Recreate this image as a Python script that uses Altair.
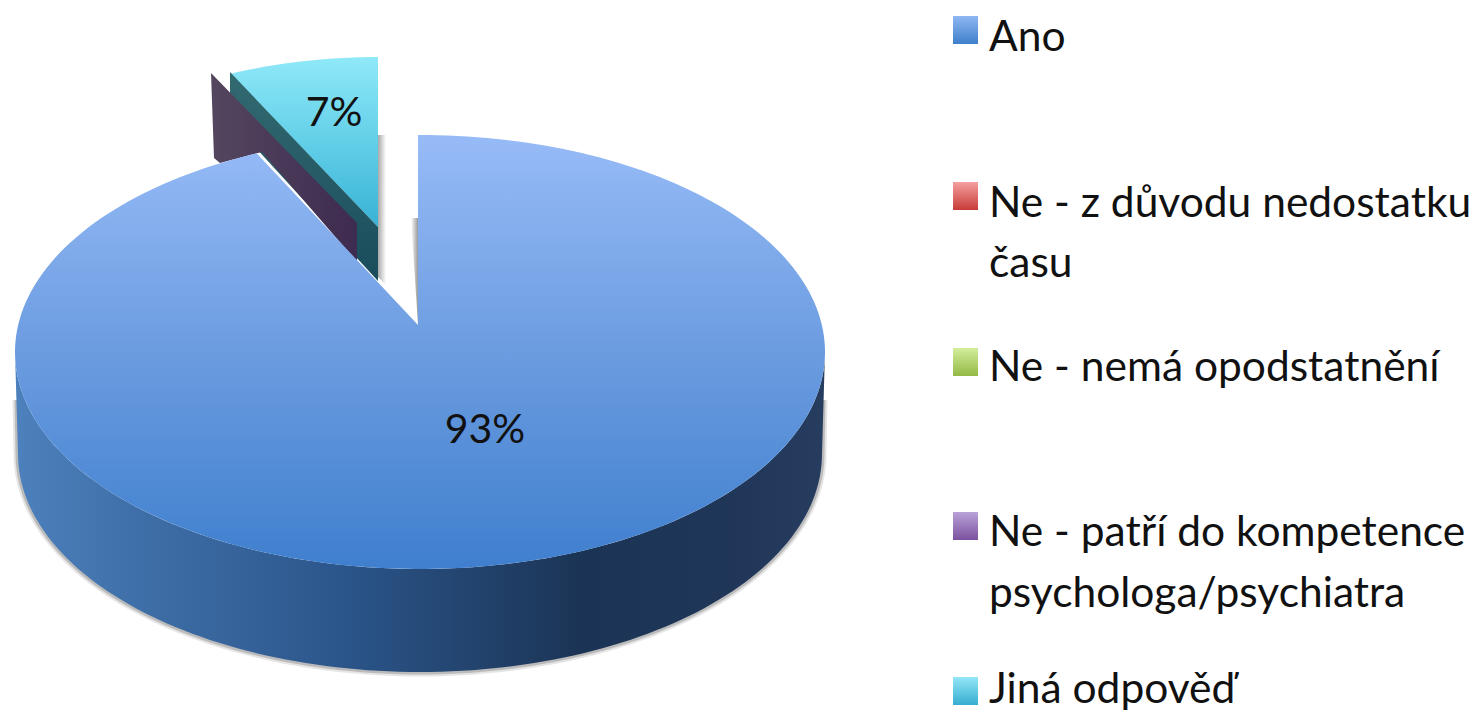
import math
import altair as alt
import pandas as pd

# chart values
categories = ["Ano", "Ne - z důvodu nedostatku", "Ne - nemá opodstatnění",
              "Ne - patří do kompetence", "Jiná odpověď"]
shares = [93.4, 0, 0, 0, 6.6]
pct_labels = ["93%", "7%"]
legend_extra = ["času", "psychologa/psychiatra"]

# layout (reference pixels)
W, H = 1465, 704
xs = alt.Scale(domain=[8, 8 + W], range=[0, W], nice=False, zero=False)
ys = alt.Scale(domain=[8, 8 + H], range=[0, H], nice=False, zero=False)
FONT = "Lato"


def grad(stops, vertical=True):
    s = [alt.GradientStop(offset=o, color=c) for o, c in stops]
    if vertical:
        return alt.LinearGradient(gradient="linear", stops=s, x1=0, x2=0, y1=0, y2=1)
    return alt.LinearGradient(gradient="linear", stops=s, x1=0, x2=1, y1=0, y2=0)


def shape(pts, **mark):
    df = pd.DataFrame({"x": [p[0] for p in pts], "y": [p[1] for p in pts], "i": range(len(pts))})
    return alt.Chart(df).mark_line(**mark).encode(
        x=alt.X("x:Q", scale=xs, axis=None),
        y=alt.Y("y:Q", scale=ys, axis=None),
        order=alt.Order("i:Q"),
    )


def arc(cx, cy, rx, ry, a0, a1, n=120):
    out = []
    for k in range(n + 1):
        a = math.radians(a0 + (a1 - a0) * k / n)
        out.append((cx + rx * math.sin(a), cy - ry * math.cos(a)))
    return out


big_deg = 360 * shares[0] / sum(shares)
layers = []

# small slice: top, cut face and zero-value face
cyan_top = [(378, 227)] + arc(378, 254, 365, 197, big_deg, 360, 30)
layers.append(shape(cyan_top, fill=grad([(0, "#90e9f8"), (0.5, "#62cfe8"), (1, "#38b2d5")]),
                    strokeWidth=0))
layers.append(shape([(230, 72), (378, 227), (378, 281), (230, 120)],
                    fill=grad([(0, "#336a70"), (1, "#1a4c5c")]), strokeWidth=0))
layers.append(shape([(211, 73), (357, 223), (357, 262), (262, 152), (220, 163), (214, 158)],
                    fill=grad([(0, "#54465f"), (1, "#3e2b50")], vertical=False), strokeWidth=0))

# shadows in the gap
layers.append(shape([(378, 135), (386, 135), (386, 285), (378, 277)],
                    fill=grad([(0, "#a8a8a8"), (1, "#ffffff")], vertical=False), strokeWidth=0))
layers.append(shape([(411, 218), (418, 218), (418, 325)],
                    fill=grad([(0, "#ffffff"), (1, "#9a9a9a")], vertical=False), strokeWidth=0))

# drop shadow and side wall
rim_top = arc(420, 352, 405, 217, 90, 270)
rim_low = arc(420, 454, 402, 218, 270, 90)
wall = [(17, 400)] + rim_low[::1] + [(823, 400)]
layers.append(shape(wall, fill="transparent", stroke="#000000", strokeOpacity=0.10, strokeWidth=9))
layers.append(shape(wall, fill="transparent", stroke="#000000", strokeOpacity=0.18, strokeWidth=5))
layers.append(shape(rim_top + rim_low,
                    fill=grad([(0, "#4d81bd"), (0.15, "#3f6fa8"), (0.4, "#2b568b"),
                               (0.7, "#1b3455"), (0.88, "#1f3658"), (1, "#263d60")],
                              vertical=False), strokeWidth=0))

# big slice
big_top = [(418, 325)] + arc(420, 352, 405, 217, -0.28, big_deg, 240)
layers.append(shape(big_top, fill=grad([(0, "#97bbf7"), (0.5, "#6b9ce0"), (1, "#3f7fce")]),
                    strokeWidth=0))

# percent labels
pct = pd.DataFrame({"t": pct_labels, "x": [485, 334], "y": [431, 114]})
layers.append(alt.Chart(pct).mark_text(font=FONT, fontSize=41, color="#111111").encode(
    x=alt.X("x:Q", scale=xs, axis=None), y=alt.Y("y:Q", scale=ys, axis=None), text="t:N"))

# legend
swatch_y = [16, 182, 348, 512, 677]
swatches = [[(0, "#8fb7f2"), (1, "#3f7fcc")], [(0, "#f4a09f"), (1, "#c83b38")],
            [(0, "#d3ee9c"), (1, "#93b946")], [(0, "#baa2da"), (1, "#7b519f")],
            [(0, "#94e7f7"), (1, "#36add1")]]
for yy, st in zip(swatch_y, swatches):
    d = pd.DataFrame({"x": [953], "x2": [978], "y": [yy], "y2": [yy + 28]})
    layers.append(alt.Chart(d).mark_rect(fill=grad(st), strokeWidth=0).encode(
        x=alt.X("x:Q", scale=xs, axis=None), x2="x2:Q",
        y=alt.Y("y:Q", scale=ys, axis=None), y2="y2:Q"))

leg_text = categories[:2] + legend_extra[:1] + categories[2:4] + legend_extra[1:] + categories[4:]
leg = pd.DataFrame({"t": leg_text, "x": [989] * 7, "y": [38, 204, 264, 368, 533, 594, 690]})
layers.append(alt.Chart(leg).mark_text(font=FONT, fontSize=42.5, align="left", color="#111111").encode(
    x=alt.X("x:Q", scale=xs, axis=None), y=alt.Y("y:Q", scale=ys, axis=None), text="t:N"))

chart = alt.layer(*layers).properties(width=W, height=H, padding=0,
                                      autosize=alt.AutoSizeParams(type="none")
                                      ).configure_view(stroke=None)
chart.save("out.html", embed_options={"renderer": "svg", "actions": False})
